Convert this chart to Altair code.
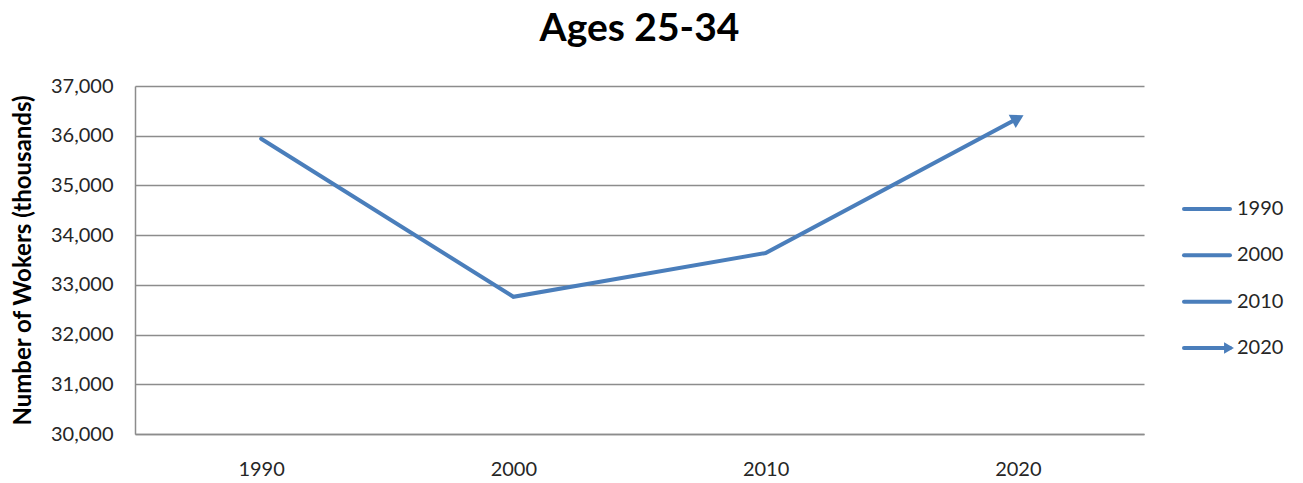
import math

import altair as alt
import pandas as pd

# Workers aged 25-34, in thousands
years = ["1990", "2000", "2010", "2020"]
workers = [35940, 32760, 33640, 36350]

legend_labels = ["1990", "2000", "2010", "2020"]
y_ticks = [30000, 31000, 32000, 33000, 34000, 35000, 36000, 37000]

BLUE = "#4A7EBB"
GRID = "#8C8C8C"
TEXT = "#262626"
FONT = "Lato"
W, H = 1009, 348
Y_MIN, Y_MAX = 30000, 37000

df = pd.DataFrame({"year": years, "workers": workers})
end_df = df.tail(1)

# rotate the arrowhead so it follows the last segment (pixel space)
step = W / len(years)
rise = (workers[-1] - workers[-2]) / (Y_MAX - Y_MIN) * H
head_angle = 90 - math.degrees(math.atan2(rise, step))

x_enc = alt.X(
    "year:N",
    sort=years,
    scale=alt.Scale(type="point", padding=0.5),
    axis=alt.Axis(
        title=None,
        labelAngle=0,
        ticks=False,
        domainColor=GRID,
        domainWidth=1.5,
        labelPadding=25,
        labelFontSize=20,
        labelFont=FONT,
        labelColor=TEXT,
    ),
)
y_enc = alt.Y(
    "workers:Q",
    scale=alt.Scale(domain=[Y_MIN, Y_MAX], nice=False, zero=False),
    axis=alt.Axis(
        values=y_ticks,
        format=",.0f",
        title="Number of Wokers (thousands)",
        titleFont=FONT,
        titleFontSize=24,
        titleFontWeight="bold",
        titleColor="#000000",
        titleX=-100,
        ticks=False,
        domainColor=GRID,
        domainWidth=1.5,
        gridColor=GRID,
        gridWidth=1.3,
        labelPadding=22,
        labelFontSize=20,
        labelFont=FONT,
        labelColor=TEXT,
    ),
)

line = alt.Chart(df).mark_line(
    color=BLUE, strokeWidth=4, strokeCap="round", strokeJoin="miter"
).encode(x=x_enc, y=y_enc)

head = alt.Chart(end_df).mark_point(
    shape="triangle-up", filled=True, color=BLUE, size=220, opacity=1, angle=head_angle
).encode(x=x_enc, y=y_enc)

main = alt.layer(line, head).properties(
    width=W,
    height=H,
    title=alt.TitleParams(
        "Ages 25-34",
        fontSize=39,
        fontWeight="bold",
        font=FONT,
        color="#000000",
        anchor="middle",
        offset=27,
    ),
)

# legend: one short stroke per year, the last one drawn as an arrow
leg_df = pd.DataFrame({"label": legend_labels})
leg_y = alt.Y(
    "label:N",
    sort=legend_labels,
    scale=alt.Scale(type="point", domain=legend_labels, range=[123, 262], padding=0),
    axis=None,
)
leg_lines = alt.Chart(leg_df).mark_rule(
    color=BLUE, strokeWidth=4, strokeCap="round"
).encode(x=alt.value(0), x2=alt.value(46), y=leg_y)
leg_head = alt.Chart(leg_df).transform_filter(
    alt.datum.label == legend_labels[-1]
).mark_point(
    shape="triangle-up", filled=True, color=BLUE, size=130, opacity=1, angle=90
).encode(x=alt.value(45), y=leg_y)
leg_text = alt.Chart(leg_df).mark_text(
    align="left", baseline="middle", fontSize=20, font=FONT, color=TEXT
).encode(x=alt.value(53), y=leg_y, text="label:N")

legend = alt.layer(leg_lines, leg_head, leg_text).properties(width=105, height=H)

chart = (
    alt.hconcat(main, legend, spacing=40, bounds="flush")
    .properties(
        background="#FFFFFF",
        padding={"top": 10, "left": 10, "right": 5, "bottom": 5},
    )
    .configure_view(strokeWidth=0)
)

chart.save("out.html", embed_options={"renderer": "svg", "actions": False})
